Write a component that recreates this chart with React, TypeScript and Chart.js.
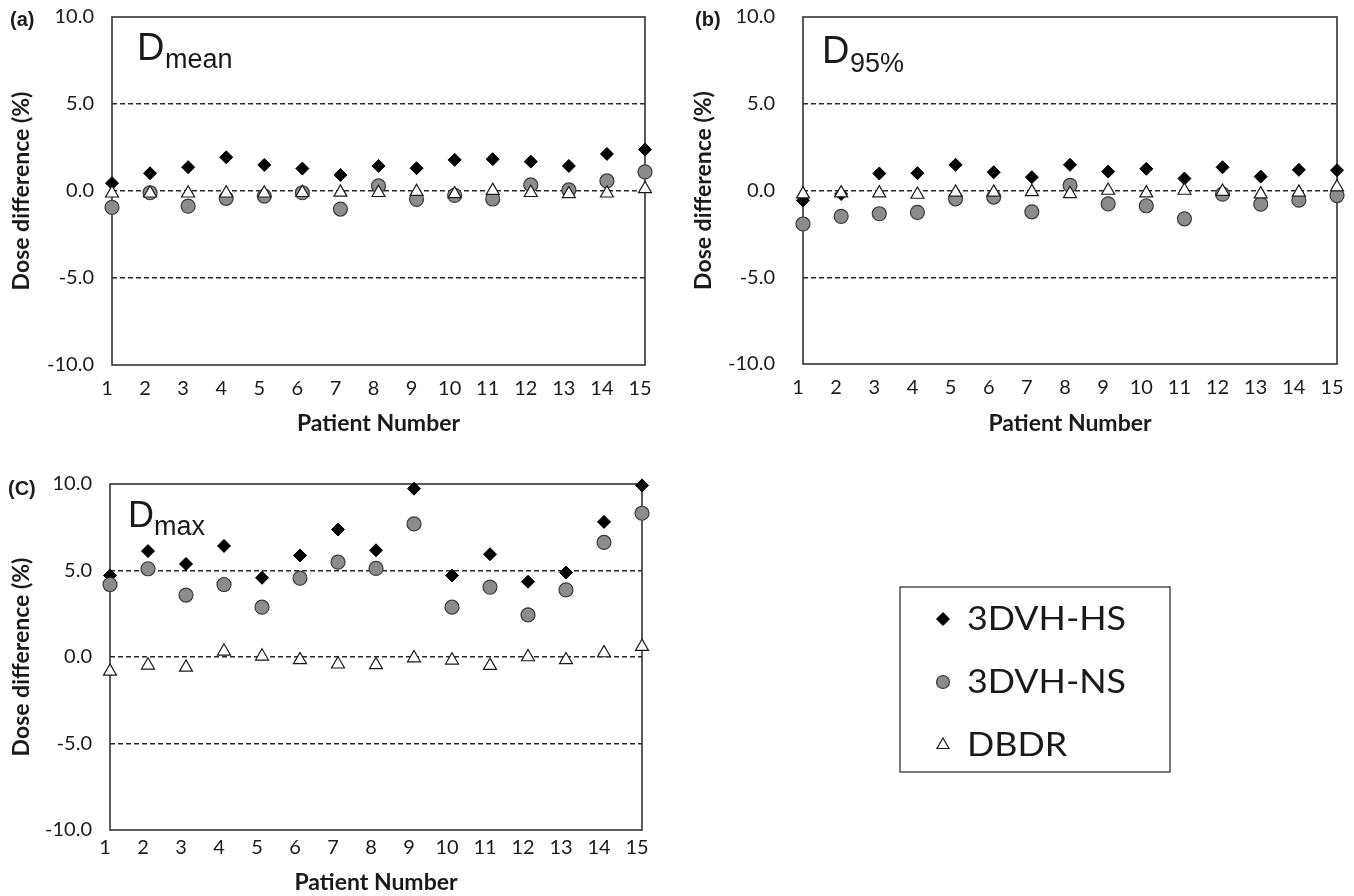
import React, { useEffect, useRef } from 'react';
import { Chart, registerables } from 'chart.js';
import { drawPoint } from 'chart.js/helpers';

Chart.register(...registerables);

// ---------- data ----------
const patients = [1, 2, 3, 4, 5, 6, 7, 8, 9, 10, 11, 12, 13, 14, 15];
const yTickValues = [-10, -5, 0, 5, 10];
const seriesNames = ['3DVH-HS', '3DVH-NS', 'DBDR'];

const dmeanHS = [0.45, 1.02, 1.37, 1.94, 1.5, 1.29, 0.92, 1.44, 1.31, 1.79, 1.83, 1.69, 1.44, 2.13, 2.38];
const dmeanNS = [-0.94, -0.1, -0.87, -0.42, -0.29, -0.1, -1.04, 0.29, -0.48, -0.25, -0.46, 0.35, 0.06, 0.58, 1.1];
const dmeanDBDR = [-0.13, -0.13, -0.13, -0.13, -0.13, -0.1, -0.08, -0.1, -0.04, -0.17, 0.02, -0.1, -0.17, -0.13, 0.12];

const d95HS = [-0.57, -0.2, 0.98, 1.0, 1.48, 1.05, 0.77, 1.48, 1.09, 1.25, 0.69, 1.34, 0.8, 1.19, 1.17];
const d95NS = [-1.93, -1.49, -1.34, -1.26, -0.48, -0.38, -1.23, 0.29, -0.77, -0.88, -1.63, -0.21, -0.79, -0.56, -0.29];
const d95DBDR = [-0.21, -0.15, -0.15, -0.23, -0.11, -0.11, -0.08, -0.19, 0.0, -0.15, 0.0, -0.06, -0.21, -0.11, 0.19];

const dmaxHS = [4.71, 6.12, 5.38, 6.42, 4.58, 5.87, 7.37, 6.17, 9.73, 4.71, 5.94, 4.35, 4.88, 7.81, 9.92];
const dmaxNS = [4.19, 5.1, 3.58, 4.19, 2.88, 4.56, 5.48, 5.12, 7.69, 2.88, 4.04, 2.44, 3.88, 6.62, 8.31];
const dmaxDBDR = [-0.83, -0.48, -0.6, 0.33, 0.04, -0.17, -0.42, -0.46, -0.06, -0.19, -0.5, 0.0, -0.17, 0.23, 0.6];

// ---------- styles ----------
const markerStyles = [
  { pointStyle: 'rectRot', radius: 6.5, bg: '#000000', border: '#000000', bw: 1 },
  { pointStyle: 'circle', radius: 7, bg: '#8c8c8c', border: '#3a3a3a', bw: 1.2 },
  { pointStyle: 'triangle', radius: 7.5, bg: '#ffffff', border: '#1a1a1a', bw: 1.2 },
];
const legendMarkerRadius = [6.5, 6.5, 7];

type PanelCfg = {
  key: string;
  left: number; top: number; w: number; h: number;
  padding: { left: number; top: number; right: number; bottom: number };
  yAxisW: number; xAxisH: number;
  xTickPad: number; yTickPad: number; xTitlePadB: number; yTitlePadT: number;
  tag: string; tagX: number; tagY: number;
  dX: number; dY: number; dSize: number; sub: string; subX: number; subY: number;
  series: number[][];
  legend?: { x: number; y: number; w: number; h: number; rows: number[]; markerX: number; textX: number };
};

const panels: PanelCfg[] = [
  {
    key: 'a', left: 0, top: 0, w: 680, h: 445,
    padding: { left: 0, top: 17, right: 35, bottom: 0 },
    yAxisW: 112, xAxisH: 80, xTickPad: 12, yTickPad: 18, xTitlePadB: 8, yTitlePadT: 8,
    tag: '(a)', tagX: 10, tagY: 20,
    dX: 137, dY: 60, dSize: 38, sub: 'mean', subX: 165, subY: 68,
    series: [dmeanHS, dmeanNS, dmeanDBDR],
  },
  {
    key: 'b', left: 680, top: 0, w: 674, h: 445,
    padding: { left: 0, top: 17, right: 17, bottom: 0 },
    yAxisW: 123, xAxisH: 81, xTickPad: 12, yTickPad: 28, xTitlePadB: 8, yTitlePadT: 10,
    tag: '(b)', tagX: 15, tagY: 20,
    dX: 142, dY: 63, dSize: 38, sub: '95%', subX: 170, subY: 72,
    series: [d95HS, d95NS, d95DBDR],
  },
  {
    key: 'c', left: 0, top: 455, w: 1354, h: 441,
    padding: { left: 0, top: 29, right: 712, bottom: 0 },
    yAxisW: 110, xAxisH: 66, xTickPad: 6, yTickPad: 18, xTitlePadB: 0, yTitlePadT: 8,
    tag: '(C)', tagX: 8, tagY: 34,
    dX: 128, dY: 72, dSize: 36, sub: 'max', subX: 154, subY: 80,
    series: [dmaxHS, dmaxNS, dmaxDBDR],
    legend: { x: 900, y: 132, w: 270, h: 185, rows: [164, 227, 290], markerX: 943, textX: 967 },
  },
];

const TEXT = '#1a1a1a';
const FRAME = '#333333';

function framePlugin(p: PanelCfg) {
  return {
    id: 'frame_' + p.key,
    beforeDatasetsDraw(chart: any) {
      const { ctx, chartArea: a } = chart;
      ctx.save();
      ctx.strokeStyle = FRAME;
      ctx.lineWidth = 1.6;
      ctx.strokeRect(a.left, a.top, a.right - a.left, a.bottom - a.top);
      ctx.restore();
    },
    afterDraw(chart: any) {
      const ctx = chart.ctx as CanvasRenderingContext2D;
      ctx.save();
      ctx.fillStyle = TEXT;
      // panel tag
      ctx.font = 'bold 20px "Liberation Sans", Arial, sans-serif';
      ctx.textBaseline = 'middle';
      ctx.textAlign = 'left';
      ctx.fillText(p.tag, p.tagX, p.tagY);
      // D label with subscript
      ctx.textBaseline = 'alphabetic';
      ctx.font = `${p.dSize}px "Liberation Sans", Arial, sans-serif`;
      ctx.fillText('D', p.dX, p.dY);
      ctx.font = '27px "Liberation Sans", Arial, sans-serif';
      ctx.fillText(p.sub, p.subX, p.subY);
      // legend
      if (p.legend) {
        const L = p.legend;
        ctx.strokeStyle = FRAME;
        ctx.lineWidth = 1.3;
        ctx.strokeRect(L.x, L.y, L.w, L.h);
        seriesNames.forEach((name, i) => {
          const st = markerStyles[i];
          ctx.fillStyle = st.bg;
          ctx.strokeStyle = st.border;
          ctx.lineWidth = st.bw;
          drawPoint(ctx, { pointStyle: st.pointStyle as any, rotation: 0, radius: legendMarkerRadius[i], borderWidth: st.bw }, L.markerX, L.rows[i]);
          ctx.save();
          ctx.fillStyle = TEXT;
          ctx.font = '32px Lato, "Open Sans", sans-serif';
          ctx.textBaseline = 'middle';
          ctx.translate(L.textX, L.rows[i]);
          ctx.scale(1.12, 1);
          ctx.fillText(name, 0, 1);
          ctx.restore();
        });
      }
      ctx.restore();
    },
  };
}

function buildChart(canvas: HTMLCanvasElement, p: PanelCfg) {
  return new Chart(canvas, {
    type: 'scatter',
    data: {
      datasets: p.series.map((vals, i) => ({
        label: seriesNames[i],
        data: patients.map((x, j) => ({ x, y: vals[j] })),
        pointStyle: markerStyles[i].pointStyle as any,
        pointRadius: markerStyles[i].radius,
        pointHoverRadius: markerStyles[i].radius,
        pointBackgroundColor: markerStyles[i].bg,
        pointBorderColor: markerStyles[i].border,
        pointBorderWidth: markerStyles[i].bw,
        showLine: false,
        clip: false as any,
        order: 3 - i,
      })),
    },
    options: {
      responsive: false,
      animation: false,
      events: [],
      layout: { padding: p.padding },
      plugins: { legend: { display: false }, tooltip: { enabled: false } },
      scales: {
        x: {
          type: 'linear',
          min: 1,
          max: 15,
          afterBuildTicks: (s: any) => { s.ticks = patients.map((v) => ({ value: v })); },
          afterFit: (s: any) => { s.height = p.xAxisH; s.paddingLeft = 0; s.paddingRight = 0; },
          grid: { display: false, drawTicks: false },
          border: { display: false },
          ticks: {
            padding: p.xTickPad,
            labelOffset: -5,
            autoSkip: false,
            maxRotation: 0,
            color: TEXT,
            font: { size: 20, family: 'Lato, "Open Sans", sans-serif' },
            callback: (v: any) => String(v),
          },
          title: {
            display: true,
            text: 'Patient Number',
            color: TEXT,
            font: { size: 23, weight: 'bold', family: 'Lato, "Open Sans", sans-serif' },
            padding: { top: 0, bottom: p.xTitlePadB },
          },
        },
        y: {
          type: 'linear',
          min: -10,
          max: 10,
          afterBuildTicks: (s: any) => { s.ticks = yTickValues.map((v) => ({ value: v })); },
          afterFit: (s: any) => { s.width = p.yAxisW; s.paddingTop = 0; s.paddingBottom = 0; },
          grid: {
            drawTicks: false,
            lineWidth: 1.5,
            color: (c: any) => (c.tick && Math.abs(c.tick.value) === 10 ? 'rgba(0,0,0,0)' : '#2a2a2a'),
          },
          border: { display: false, dash: [5, 3] },
          ticks: {
            padding: p.yTickPad,
            color: TEXT,
            font: { size: 20, family: 'Lato, "Open Sans", sans-serif' },
            callback: (v: any) => Number(v).toFixed(1),
          },
          title: {
            display: true,
            text: 'Dose difference (%)',
            color: TEXT,
            font: { size: 23, weight: 'bold', family: 'Lato, "Open Sans", sans-serif' },
            padding: { top: p.yTitlePadT, bottom: 0 },
          },
        },
      },
    } as any,
    plugins: [framePlugin(p)],
  });
}

function Panel({ cfg }: { cfg: PanelCfg }) {
  const ref = useRef<HTMLCanvasElement>(null);
  useEffect(() => {
    const chart = buildChart(ref.current as HTMLCanvasElement, cfg);
    return () => chart.destroy();
  }, [cfg]);
  return (
    <canvas
      ref={ref}
      width={cfg.w}
      height={cfg.h}
      style={{ position: 'absolute', left: cfg.left, top: cfg.top, width: cfg.w, height: cfg.h }}
    />
  );
}

export default function App() {
  return (
    <div style={{ position: 'absolute', left: 0, top: 0, width: 1354, height: 896, background: '#ffffff' }}>
      {panels.map((p) => (
        <Panel key={p.key} cfg={p} />
      ))}
    </div>
  );
}
